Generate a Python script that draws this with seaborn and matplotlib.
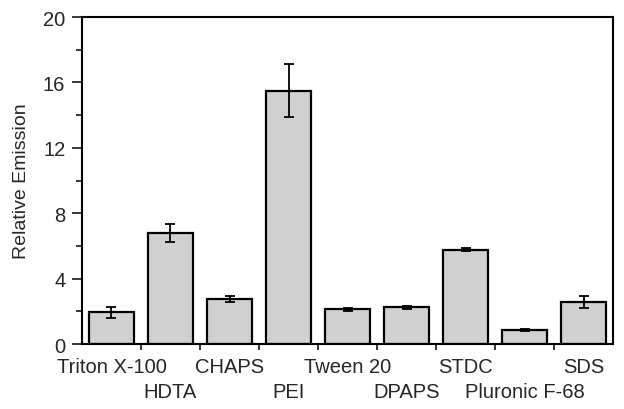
import matplotlib
matplotlib.use("Agg")
import matplotlib.pyplot as plt
import numpy as np
import pandas as pd
import seaborn as sns
from matplotlib.ticker import FixedLocator, MultipleLocator

surfactants = ["Triton X-100", "HDTA", "CHAPS", "PEI", "Tween 20",
               "DPAPS", "STDC", "Pluronic F-68", "SDS"]
emission = [1.93, 6.8, 2.75, 15.5, 2.13, 2.24, 5.78, 0.86, 2.58]
emission_err = [0.35, 0.55, 0.2, 1.6, 0.1, 0.07, 0.12, 0.05, 0.35]

df = pd.DataFrame({"surfactant": surfactants, "emission": emission, "err": emission_err})

sns.set_style("ticks")
plt.rcParams["font.family"] = ["Liberation Sans", "DejaVu Sans"]

fig = plt.figure(figsize=(6.24, 4.10), dpi=100)
ax = fig.add_axes([0.1314, 0.1585, 0.851, 0.7975])

sns.barplot(data=df, x="surfactant", y="emission", color="#d0d0d0",
            edgecolor="black", linewidth=1.6, width=0.77, saturation=1, ax=ax)
ax.errorbar(np.arange(len(df)), df["emission"], yerr=df["err"], fmt="none",
            ecolor="black", elinewidth=1.3, capsize=3.5, capthick=1.3)

ax.set_xlim(-0.5, len(df) - 0.5)
ax.set_ylim(0, 20)
ax.yaxis.set_major_locator(MultipleLocator(4))
ax.yaxis.set_minor_locator(MultipleLocator(2))

ax.set_xticks(np.arange(len(df)))
ax.set_xticklabels(surfactants, fontsize=14.5)
ax.xaxis.set_minor_locator(FixedLocator(np.arange(0.5, len(df) - 0.5, 1)))
ax.tick_params(axis="x", which="major", length=0)
ax.tick_params(axis="x", which="minor", direction="out", length=4, width=1.3)
ax.tick_params(axis="y", which="major", direction="out", length=7, width=1.3,
               labelsize=14.5, pad=5)
ax.tick_params(axis="y", which="minor", direction="out", length=4, width=1.3)

# stagger the labels on two rows
for i, tick in enumerate(ax.xaxis.get_major_ticks()):
    tick.set_pad(9 if i % 2 == 0 else 27.5)

ax.set_xlabel("")
ax.set_ylabel("Relative Emission", fontsize=14, labelpad=9)

for side in ["top", "right", "left", "bottom"]:
    ax.spines[side].set_visible(True)
    ax.spines[side].set_linewidth(1.5)
    ax.spines[side].set_color("black")

fig.savefig("out.png", dpi=100)
